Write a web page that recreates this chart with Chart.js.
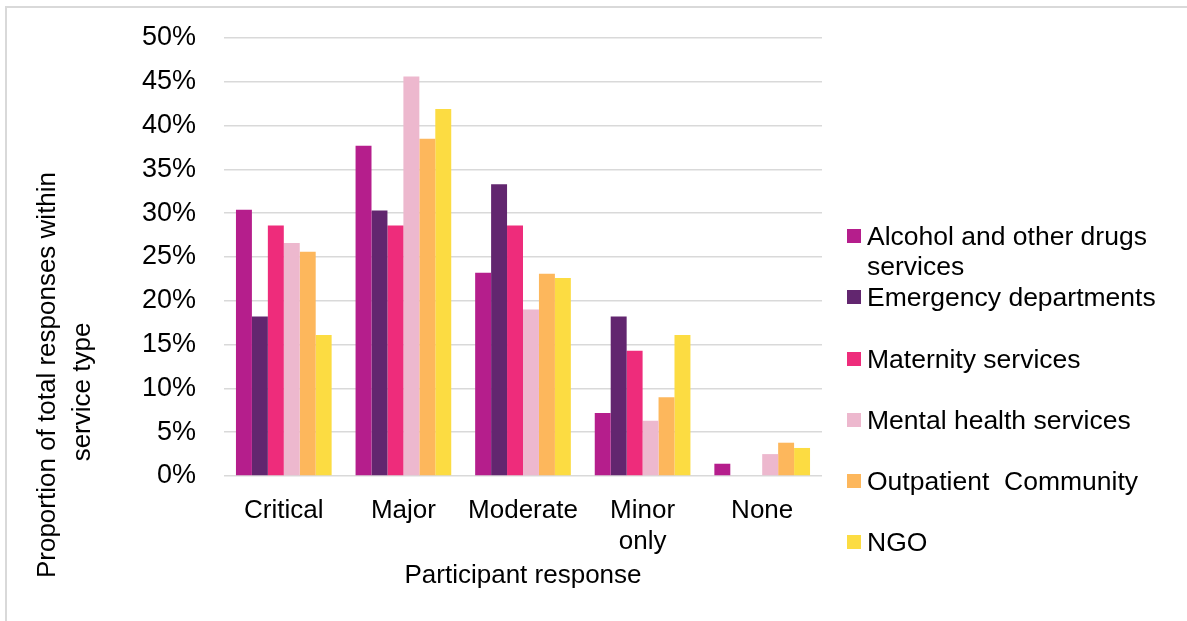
<!DOCTYPE html>
<html>
<head>
<meta charset="utf-8">
<script src="https://cdn.jsdelivr.net/npm/chart.js@4/dist/chart.umd.min.js"></script>
<style>
  html, body { margin: 0; padding: 0; background: #fff; }
  #wrap { position: relative; width: 1187px; height: 621px; overflow: hidden; font-family: "Liberation Sans", Arial, sans-serif; }
  #frame { position: absolute; left: 5px; top: 6px; right: -10px; bottom: -10px; border-top: 2px solid #d9d9d9; border-left: 2px solid #d9d9d9; }
  #chart { position: absolute; left: 0; top: 0; }
  .lg-box { position: absolute; width: 14px; height: 14px; }
  .lg-text { position: absolute; font-size: 26.5px; line-height: 30px; color: #000; width: 300px; white-space: pre-wrap; }
</style>
</head>
<body>
<div id="wrap">
  <div id="frame"></div>
  <canvas id="chart" width="1187" height="621"></canvas>
  <div id="legend"></div>
</div>
<script>
const categories = ['Critical', 'Major', 'Moderate', ['Minor', 'only'], 'None'];
const yTicks = [0, 5, 10, 15, 20, 25, 30, 35, 40, 45, 50];

const seriesNames = [
  'Alcohol and other drugs services',
  'Emergency departments',
  'Maternity services',
  'Mental health services',
  'Outpatient  Community',
  'NGO',
];
const seriesColors = ['#b51e8c', '#62266f', '#ee2c7b', '#edb8ce', '#fdb75c', '#fcdc42'];

// percent of responses within each service type
const alcoholDrugs = [30.4, 37.7, 23.2, 7.2, 1.4];
const emergency = [18.2, 30.3, 33.3, 18.2, 0];
const maternity = [28.6, 28.6, 28.6, 14.3, 0];
const mentalHealth = [26.6, 45.6, 19.0, 6.3, 2.5];
const outpatient = [25.6, 38.5, 23.1, 9.0, 3.8];
const ngo = [16.1, 41.9, 22.6, 16.1, 3.2];

const seriesValues = [alcoholDrugs, emergency, maternity, mentalHealth, outpatient, ngo];

const FONT = '"Liberation Sans", Arial, sans-serif';
Chart.defaults.font.family = FONT;
Chart.defaults.color = '#000';

const yTitlePlugin = {
  id: 'yTitle',
  afterDraw(chart) {
    const { ctx } = chart;
    const lines = [
      { text: 'Proportion of total responses within', x: 55, y: 375 },
      { text: 'service type', x: 90, y: 392 },
    ];
    ctx.save();
    ctx.font = `26px ${FONT}`;
    ctx.fillStyle = '#000';
    ctx.textAlign = 'center';
    ctx.textBaseline = 'alphabetic';
    lines.forEach((l) => {
      ctx.save();
      ctx.translate(l.x, l.y);
      ctx.rotate(-Math.PI / 2);
      ctx.fillText(l.text, 0, 0);
      ctx.restore();
    });
    ctx.restore();
  },
};

const chart = new Chart(document.getElementById('chart'), {
  type: 'bar',
  data: {
    labels: categories,
    datasets: seriesNames.map((name, i) => ({
      label: name,
      data: seriesValues[i],
      backgroundColor: seriesColors[i],
      borderWidth: 0,
      categoryPercentage: 0.8,
      barPercentage: 1.0,
    })),
  },
  options: {
    responsive: false,
    animation: false,
    devicePixelRatio: 1,
    layout: { padding: { left: 0, top: 38, right: 365, bottom: 0 } },
    plugins: {
      legend: { display: false },
      tooltip: { enabled: false },
    },
    scales: {
      x: {
        grid: { display: false },
        border: { display: false },
        ticks: { font: { size: 26 }, color: '#000', padding: 11, maxRotation: 0, autoSkip: false },
        title: { display: true, text: 'Participant response', font: { size: 26 }, color: '#000', padding: { top: 0, bottom: 30 } },
        afterFit: (scale) => { scale.height = 145; },
      },
      y: {
        min: 0,
        max: 50,
        afterBuildTicks: (scale) => { scale.ticks = yTicks.map((v) => ({ value: v })); },
        grid: { color: '#d9d9d9', lineWidth: 1.5, drawTicks: false },
        border: { display: false },
        ticks: { font: { size: 27 }, color: '#000', padding: 28, callback: (v) => v + '%' },
        afterFit: (scale) => {
          scale.width = 224;
          scale.paddingTop = 0;
          scale.paddingBottom = 0;
        },
      },
    },
  },
  plugins: [yTitlePlugin],
});

// legend built from the same series arrays
const legendCenters = [235.5, 297, 358.5, 419.5, 481, 542];
const legendEl = document.getElementById('legend');
legendEl.innerHTML = seriesNames
  .map(
    (name, i) => `
  <div class="lg-box" style="left:847px;top:${legendCenters[i] - 7}px;background:${seriesColors[i]}"></div>
  <div class="lg-text" style="left:867px;top:${legendCenters[i] - 15}px">${name}</div>`
  )
  .join('');
</script>
</body>
</html>
